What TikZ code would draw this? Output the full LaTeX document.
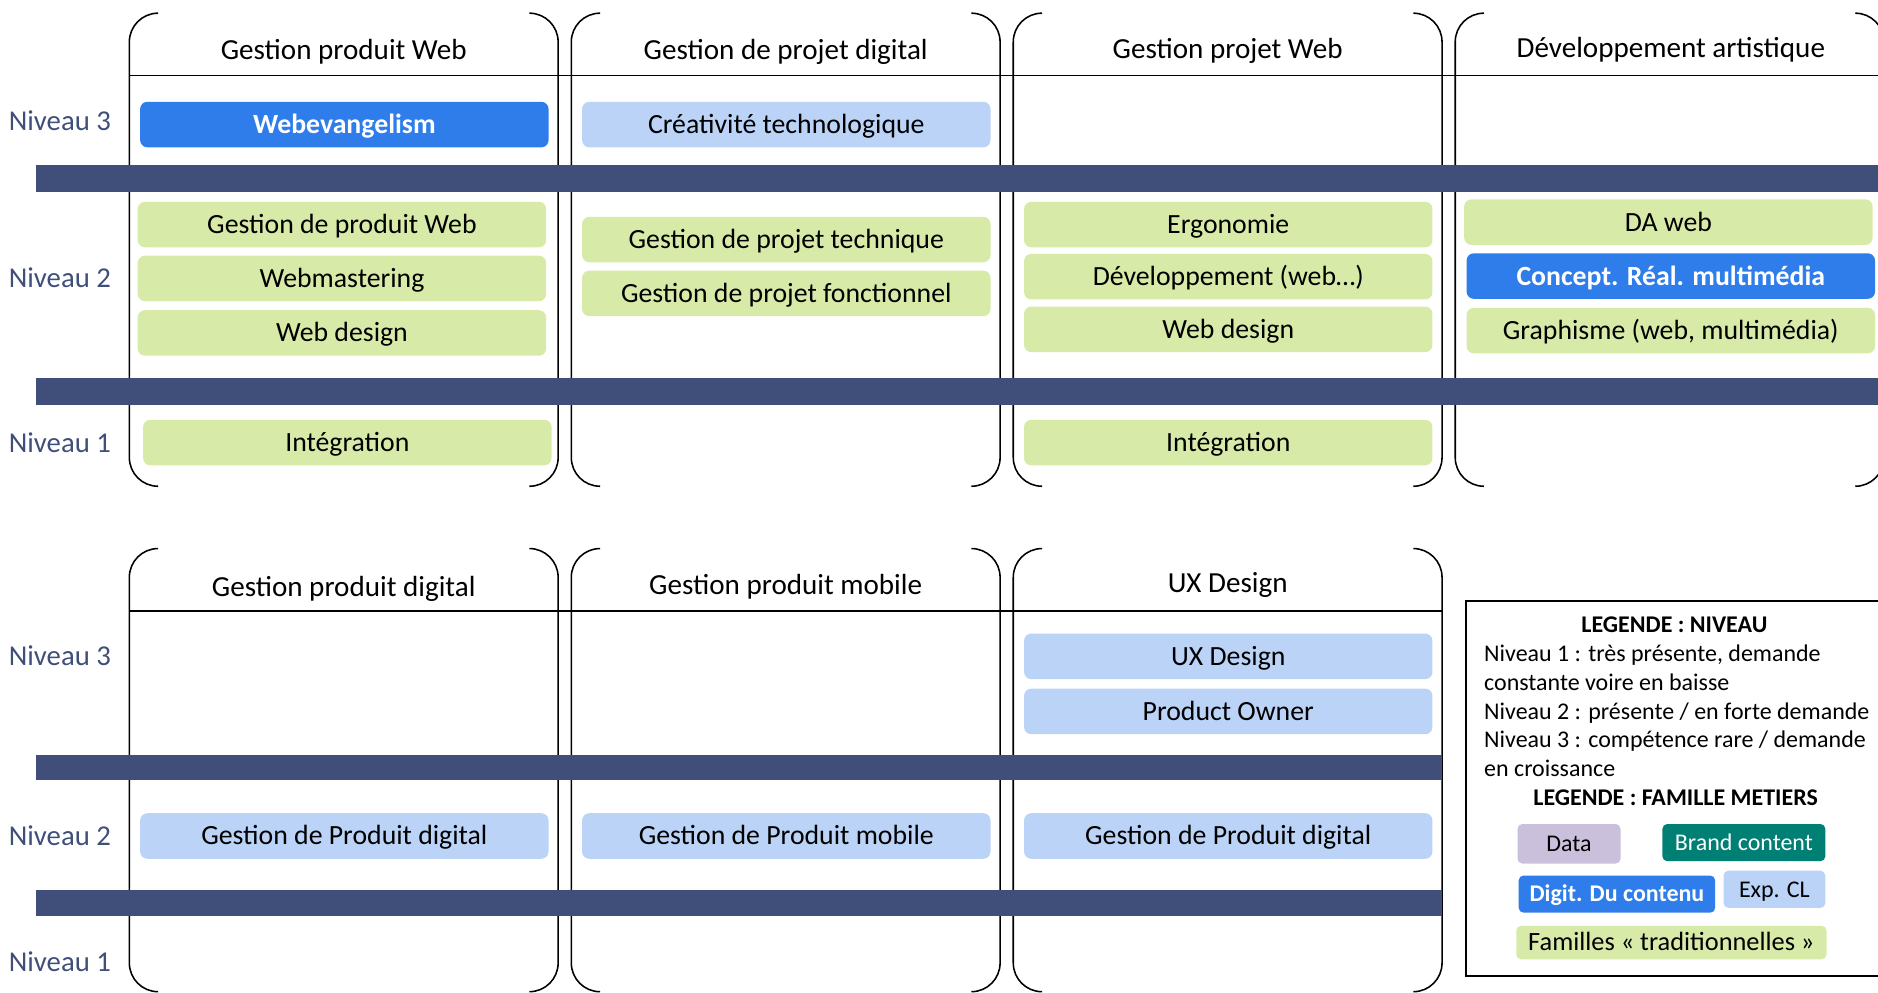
\documentclass[tikz,border=0pt]{standalone}
\usepackage{fontspec}
\setmainfont{Carlito}
\definecolor{barc}{HTML}{3F4F7A}
\definecolor{lvlc}{HTML}{3F4F7A}
\definecolor{cgreen}{HTML}{D8EAA8}
\definecolor{clblue}{HTML}{BAD3F6}
\definecolor{cblue}{HTML}{2E7DEA}
\definecolor{cteal}{HTML}{007F74}
\definecolor{clav}{HTML}{CBC0DB}
\begin{document}
\begin{tikzpicture}[x=1pt,y=-1pt,
  cell/.style={rounded corners=6pt, inner sep=0pt, minimum width=341pt, minimum height=38pt,
    font=\fontsize{23.2}{27}\selectfont, text height=15.5pt, text depth=0.5pt},
  grbox/.style={cell, fill=cgreen},
  lbbox/.style={cell, fill=clblue},
  dbbox/.style={cell, fill=cblue, text=white, font=\fontsize{23.2}{27}\selectfont\bfseries},
  hdr/.style={inner sep=0pt, font=\fontsize{24.3}{28}\selectfont, text height=16pt, text depth=0.5pt},
  lvl/.style={inner sep=0pt, font=\fontsize{24}{28}\selectfont, text=lvlc, text height=16pt, text depth=0.5pt},
  leg/.style={inner sep=0pt, anchor=west, font=\fontsize{20}{24}\selectfont, text height=13.5pt, text depth=0.5pt},
  legh/.style={inner sep=0pt, font=\fontsize{20}{24}\selectfont\bfseries, text height=13.5pt, text depth=0.5pt},
  sw/.style={rounded corners=4pt, inner sep=0pt, font=\fontsize{20}{24}\selectfont, text height=13.5pt, text depth=0.5pt},
  brk/.style={line width=1.3pt, rounded corners=24pt},
  bar/.style={fill=barc, draw=none}
]
\useasboundingbox (0,0) rectangle (1568,829);
\clip (0,0) rectangle (1568,829);

% ---------- brackets top block
\foreach \L in {108,477,846,1215}{
  \draw[brk] ({\L+24},11) -- (\L,11) -- (\L,406) -- ({\L+24},406);
  \draw[brk] ({\L+358-24},11) -- ({\L+358},11) -- ({\L+358},406) -- ({\L+358-24},406);
}
% ---------- brackets bottom block
\foreach \L in {108,477,846}{
  \draw[brk] ({\L+24},458) -- (\L,458) -- (\L,828) -- ({\L+24},828);
  \draw[brk] ({\L+358-24},458) -- ({\L+358},458) -- ({\L+358},828) -- ({\L+358-24},828);
}
% header lines
\draw[line width=1.3pt] (108,63) -- (1580,63);
\draw[line width=1.3pt] (108,510) -- (1204,510);

% bars
\fill[bar] (30,138) rectangle (1580,160);
\fill[bar] (30,316) rectangle (1580,338);
\fill[bar] (30,630) rectangle (1204,651);
\fill[bar] (30,743) rectangle (1204,765);

% level labels
\node[lvl] (t3) at (50,101) {Niveau 3};
\node[lvl] (t2) at (50,232) {Niveau 2};
\node[lvl] (t1) at (50,370) {Niveau 1};
\node[lvl] (b3) at (50,548) {Niveau 3};
\node[lvl] (b2) at (50,698) {Niveau 2};
\node[lvl] (b1) at (50,803) {Niveau 1};

% headers
\node[hdr] (h1) at (287,42) {Gestion produit Web};
\node[hdr] (h2) at (656,42) {Gestion de projet digital};
\node[hdr] (h3) at (1025,41) {Gestion projet Web};
\node[hdr] (h4) at (1395,40) {Développement artistique};
\node[hdr] (h5) at (287,490) {Gestion produit digital};
\node[hdr] (h6) at (656,489) {Gestion produit mobile};
\node[hdr] (h7) at (1025,487) {UX Design};

% column 1
\node[dbbox] (c1a) at (287.5,104) {Webevangelism};
\node[grbox] (c1b) at (285.5,187.5) {Gestion de produit Web};
\node[grbox] (c1c) at (285.5,232.5) {Webmastering};
\node[grbox] (c1d) at (285.5,278) {Web design};
\node[grbox] (c1e) at (290,369.5) {Intégration};
% column 2
\node[lbbox] (c2a) at (656.5,104) {Créativité technologique};
\node[grbox] (c2b) at (656.5,200) {Gestion de projet technique};
\node[grbox] (c2c) at (656.5,245) {Gestion de projet fonctionnel};
% column 3
\node[grbox] (c3a) at (1025.5,187.5) {Ergonomie};
\node[grbox] (c3b) at (1025.5,231) {Développement (web…)};
\node[grbox] (c3c) at (1025.5,275) {Web design};
\node[grbox] (c3d) at (1025.5,369.5) {Intégration};
% column 4
\node[grbox] (c4a) at (1393,185.5) {DA web};
\node[dbbox] (c4b) at (1395,230.5) {Concept. Réal. multimédia};
\node[grbox] (c4c) at (1395,276) {Graphisme (web, multimédia)};
% bottom block
\node[lbbox] (d1a) at (287.5,698) {Gestion de Produit digital};
\node[lbbox] (d2a) at (656.5,698) {Gestion de Produit mobile};
\node[lbbox] (d3a) at (1025.5,548) {UX Design};
\node[lbbox] (d3b) at (1025.5,594) {Product Owner};
\node[lbbox] (d3c) at (1025.5,698) {Gestion de Produit digital};

% legend
\draw[line width=1.5pt] (1224,502) rectangle (1590,815);
\node[legh] (lg1) at (1398,522) {LEGENDE : NIVEAU};
\node[leg] (lg2) at (1239,546) {Niveau 1 : très présente, demande};
\node[leg] (lg3) at (1239,570) {constante voire en baisse};
\node[leg] (lg4) at (1239,594) {Niveau 2 : présente / en forte demande};
\node[leg] (lg5) at (1239,618) {Niveau 3 : compétence rare / demande};
\node[leg] (lg6) at (1239,642) {en croissance};
\node[legh] (lg7) at (1399,666) {LEGENDE : FAMILLE METIERS};
\node[sw, fill=clav, minimum width=86pt, minimum height=33pt] (sd) at (1310,704.5) {Data};
\node[sw, fill=cteal, text=white, minimum width=136pt, minimum height=31pt] (sb) at (1456,703.5) {Brand content};
\node[sw, fill=cblue, text=white, font=\fontsize{20}{24}\selectfont\bfseries, minimum width=164pt, minimum height=31pt] (sg) at (1350,746.5) {Digit. Du contenu};
\node[sw, fill=clblue, minimum width=85pt, minimum height=31pt] (se) at (1481.5,742.5) {Exp. CL};
\node[sw, fill=cgreen, minimum width=259pt, minimum height=28pt, font=\fontsize{22}{26}\selectfont, text height=14.5pt] (sf) at (1395.5,787) {Familles « traditionnelles »};
\end{tikzpicture}
\end{document}
